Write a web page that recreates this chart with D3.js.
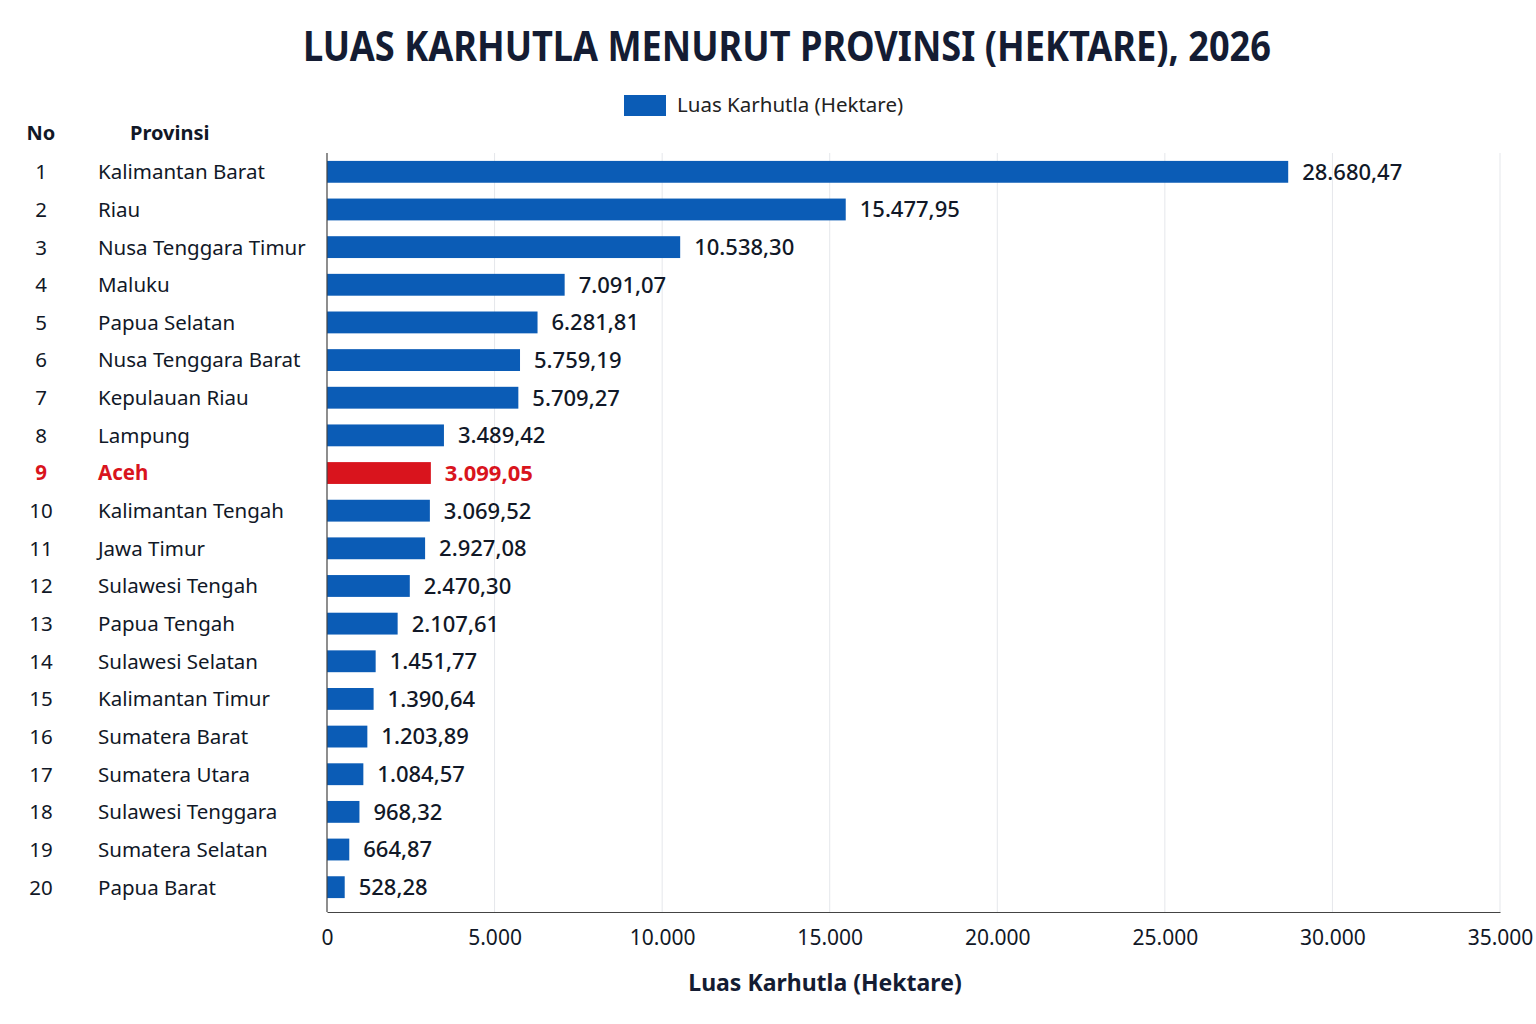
<!DOCTYPE html>
<html>
<head>
<meta charset="utf-8">
<script src="https://cdn.jsdelivr.net/npm/d3@7"></script>
<style>
  body { margin: 0; background: #fff; }
  text { font-family: "Noto Sans", "Open Sans", sans-serif; }
</style>
</head>
<body>
<div id="chart"></div>
<script>
var provinces = ["Kalimantan Barat", "Riau", "Nusa Tenggara Timur", "Maluku", "Papua Selatan",
    "Nusa Tenggara Barat", "Kepulauan Riau", "Lampung", "Aceh", "Kalimantan Tengah",
    "Jawa Timur", "Sulawesi Tengah", "Papua Tengah", "Sulawesi Selatan", "Kalimantan Timur",
    "Sumatera Barat", "Sumatera Utara", "Sulawesi Tenggara", "Sumatera Selatan", "Papua Barat"];
var luas = [28680.47, 15477.95, 10538.30, 7091.07, 6281.81, 5759.19, 5709.27, 3489.42, 3099.05, 3069.52,
    2927.08, 2470.30, 2107.61, 1451.77, 1390.64, 1203.89, 1084.57, 968.32, 664.87, 528.28];
var xTicks = [0, 5000, 10000, 15000, 20000, 25000, 30000, 35000];
var highlight = "Aceh";

var width = 1536, height = 1024;
var blue = "#0b5cb6", red = "#d9141d", ink = "#111827";

var locale = d3.formatLocale({ decimal: ",", thousands: ".", grouping: [3], currency: ["", ""] });
var fmtVal = locale.format(",.2f");
var fmtTick = locale.format(",.0f");

var svg = d3.select("#chart").append("svg")
    .attr("width", width)
    .attr("height", height);

var x = d3.scaleLinear().domain([0, 35000]).range([327, 1500]);
var y = d3.scaleBand().domain(provinces).range([153, 906]).paddingInner(0.42).paddingOuter(0.21);

// title
svg.append("text")
    .attr("x", 787).attr("y", 61)
    .attr("text-anchor", "middle")
    .attr("textLength", 968).attr("lengthAdjust", "spacingAndGlyphs")
    .style("font-size", "42px").style("font-weight", "bold").style("fill", "#141c33")
    .text("LUAS KARHUTLA MENURUT PROVINSI (HEKTARE), 2026");

// legend
svg.append("rect").attr("x", 624).attr("y", 95).attr("width", 42).attr("height", 21).attr("fill", blue);
svg.append("text").attr("x", 677).attr("y", 112)
    .style("font-size", "20.5px").style("fill", "#222")
    .text("Luas Karhutla (Hektare)");

// column headers
svg.append("text").attr("x", 41).attr("y", 140).attr("text-anchor", "middle")
    .style("font-size", "20px").style("font-weight", "bold").style("fill", ink).text("No");
svg.append("text").attr("x", 130).attr("y", 140)
    .style("font-size", "20px").style("font-weight", "bold").style("fill", ink).text("Provinsi");

// gridlines
svg.append("g").selectAll("line")
    .data(xTicks.slice(1))
    .enter().append("line")
    .attr("x1", d => x(d)).attr("x2", d => x(d))
    .attr("y1", 153).attr("y2", 912)
    .attr("stroke", "#e5e7eb").attr("stroke-width", 1);

// bars
svg.append("g").selectAll("rect")
    .data(provinces)
    .enter().append("rect")
    .attr("x", x(0))
    .attr("y", d => y(d))
    .attr("width", (d, i) => x(luas[i]) - x(0))
    .attr("height", y.bandwidth())
    .attr("fill", d => d === highlight ? red : blue);

// value labels
svg.append("g").selectAll("text")
    .data(provinces)
    .enter().append("text")
    .attr("x", (d, i) => x(luas[i]) + 14)
    .attr("y", d => y(d) + y.bandwidth() / 2)
    .attr("dy", "0.36em")
    .style("font-size", "22px")
    .style("font-weight", d => d === highlight ? "bold" : "500")
    .style("fill", d => d === highlight ? red : ink)
    .text((d, i) => fmtVal(luas[i]));

// row numbers and names
var rows = svg.append("g").selectAll("g")
    .data(provinces)
    .enter().append("g")
    .attr("transform", d => "translate(0," + (y(d) + y.bandwidth() / 2) + ")");
rows.append("text")
    .attr("x", 41).attr("dy", "0.36em").attr("text-anchor", "middle")
    .style("font-size", "20.5px")
    .style("font-weight", d => d === highlight ? "bold" : "normal")
    .style("fill", d => d === highlight ? red : ink)
    .text((d, i) => i + 1);
rows.append("text")
    .attr("x", 98).attr("dy", "0.36em")
    .style("font-size", "20.5px")
    .style("font-weight", d => d === highlight ? "bold" : "normal")
    .style("fill", d => d === highlight ? red : ink)
    .text(d => d);

// axes
var xAxis = svg.append("g")
    .attr("transform", "translate(0,912)")
    .call(d3.axisBottom(x).tickValues(xTicks).tickFormat(fmtTick).tickSize(0).tickPadding(18));
xAxis.select(".domain").attr("stroke", "#444").attr("stroke-width", 1.2);
xAxis.selectAll("text").style("font-size", "21px").style("fill", ink)
    .style("font-family", "'Noto Sans', sans-serif");

svg.append("line").attr("x1", 327).attr("x2", 327).attr("y1", 153).attr("y2", 912)
    .attr("stroke", "#444").attr("stroke-width", 1.2);

// x axis title
svg.append("text").attr("x", 825).attr("y", 991).attr("text-anchor", "middle")
    .style("font-size", "23px").style("font-weight", "bold").style("fill", "#141c33")
    .text("Luas Karhutla (Hektare)");
</script>
</body>
</html>
